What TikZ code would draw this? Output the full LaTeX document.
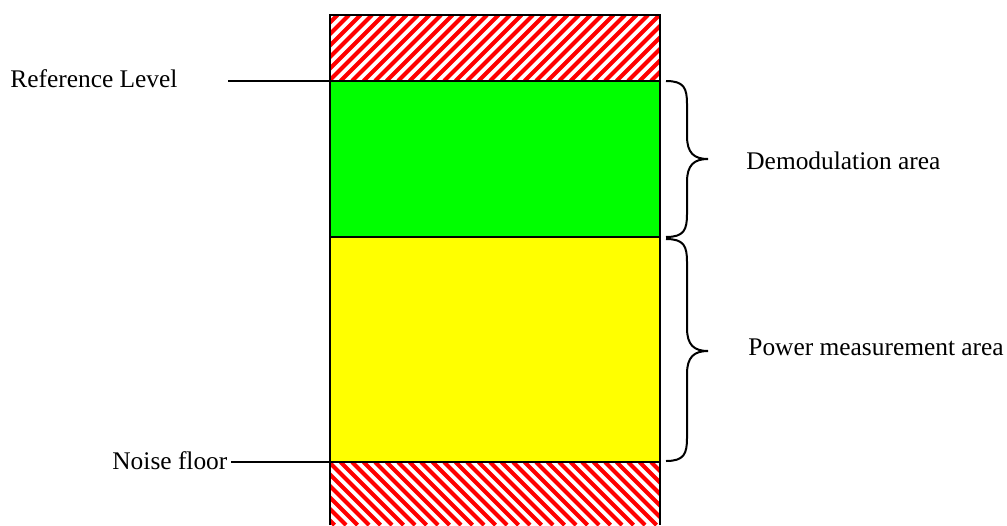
\documentclass[tikz,border=0pt]{standalone}
\usepackage{fontspec}
\setmainfont{Liberation Serif}
\definecolor{demodgreen}{RGB}{0,255,0}
\definecolor{poweryellow}{RGB}{255,255,0}
\definecolor{hatchred}{RGB}{255,0,0}
\begin{document}
\begin{tikzpicture}[x=0.5pt,y=-0.5pt,
  lbl/.style={inner sep=0pt,font=\fontsize{12.7}{15}\selectfont},
  edge/.style={line width=0.75pt,black},
  hatch/.style={hatchred,line width=2pt},
  bracepath/.style={line width=1pt,black}]
\useasboundingbox (0,0) rectangle (1007,525);
% fills
\fill[demodgreen] (330,81) rectangle (660,237);
\fill[poweryellow] (330,237) rectangle (660,462);
% top hatching
\begin{scope}
  \clip (330,15) rectangle (660,81);
  \foreach \k in {0,...,40} {
    \draw[hatch] (260+\k*11.5,81) -- (326+\k*11.5,15);
  }
\end{scope}
% bottom hatching
\begin{scope}
  \clip (330,462) rectangle (660,525);
  \foreach \k in {0,...,40} {
    \draw[hatch] (260+\k*11.5,462) -- (323+\k*11.5,525);
  }
\end{scope}
% borders
\draw[edge] (330,525) -- (330,15) -- (660,15) -- (660,525);
\draw[edge] (330,81) -- (660,81);
\draw[edge] (330,237) -- (660,237);
\draw[edge] (330,462) -- (660,462);
% labels
\node[lbl,anchor=west] (ref) at (10,79) {Reference Level};
\node[lbl,anchor=west] (noise) at (112,461) {Noise floor};
\node[lbl,anchor=west] (demod) at (746,161) {Demodulation area};
\node[lbl,anchor=west] (power) at (748,347) {Power measurement area};
\coordinate (refL) at (228,81);
\coordinate (refR) at (330,81);
\coordinate (noiseL) at (231,462);
\coordinate (noiseR) at (330,462);
\draw[edge] (refL) -- (refR);
\draw[edge] (noiseL) -- (noiseR);
% braces
\draw[bracepath] (666,81) .. controls (684,81) and (687,88) .. (687,104)
  -- (687,136) .. controls (687,153) and (694,159) .. (708,159)
  .. controls (694,159) and (687,165) .. (687,182)
  -- (687,214) .. controls (687,230) and (684,237) .. (666,237);
\draw[bracepath] (666,239) .. controls (684,239) and (687,246) .. (687,262)
  -- (687,328) .. controls (687,345) and (694,351) .. (708,351)
  .. controls (694,351) and (687,357) .. (687,374)
  -- (687,438) .. controls (687,454) and (684,461) .. (666,461);
\end{tikzpicture}
\end{document}
